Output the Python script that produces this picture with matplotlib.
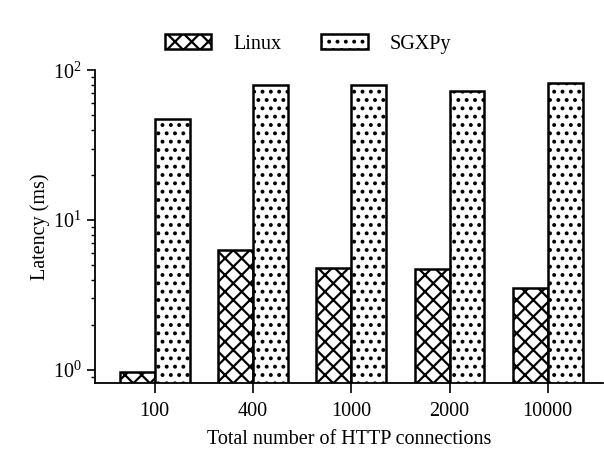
import numpy as np
import matplotlib
matplotlib.use("Agg")
import matplotlib.pyplot as plt

plt.rcParams['font.family'] = ['Liberation Serif', 'DejaVu Serif']
plt.rcParams['hatch.linewidth'] = 1.6
plt.rcParams['mathtext.fontset'] = 'stix'

# data
connections = ['100', '400', '1000', '2000', '10000']
linux = [0.97, 6.3, 4.8, 4.7, 3.5]
sgxpy = [47, 80, 80, 73, 82]

x = np.arange(len(connections))
w = 0.355

fig = plt.figure(figsize=(6.04, 4.59), dpi=100)
ax = fig.add_axes([0.157, 0.166, 0.841, 0.681])

ax.bar(x - w / 2, linux, w, color='white', edgecolor='black', linewidth=1.8,
       hatch='xx', label='Linux')
ax.bar(x + w / 2, sgxpy, w, color='white', edgecolor='black', linewidth=1.8,
       hatch='..', label='SGXPy')

ax.set_yscale('log')
ax.set_ylim(0.82, 100)
ax.set_xlim(-0.61, 4.56)
ax.set_xticks(x)
ax.set_xticklabels(connections)

for s in ['top', 'right']:
    ax.spines[s].set_visible(False)
for s in ['left', 'bottom']:
    ax.spines[s].set_linewidth(1.3)

ax.tick_params(axis='both', labelsize=14.5, width=1.2)
ax.tick_params(axis='x', length=7, pad=7)
ax.tick_params(axis='y', which='major', length=6)
ax.tick_params(axis='y', which='minor', length=3, width=1.0)

ax.set_xlabel('Total number of HTTP connections', fontsize=14.5, labelpad=6)
ax.set_ylabel('Latency (ms)', fontsize=14.5, labelpad=2)

fig.legend(loc='upper center', bbox_to_anchor=(0.51, 0.965), ncol=2,
           frameon=False, fontsize=14.5, handlelength=2.3, handleheight=0.75,
           columnspacing=2.0, handletextpad=1.1)

fig.savefig('out.png', dpi=100, facecolor='white')
